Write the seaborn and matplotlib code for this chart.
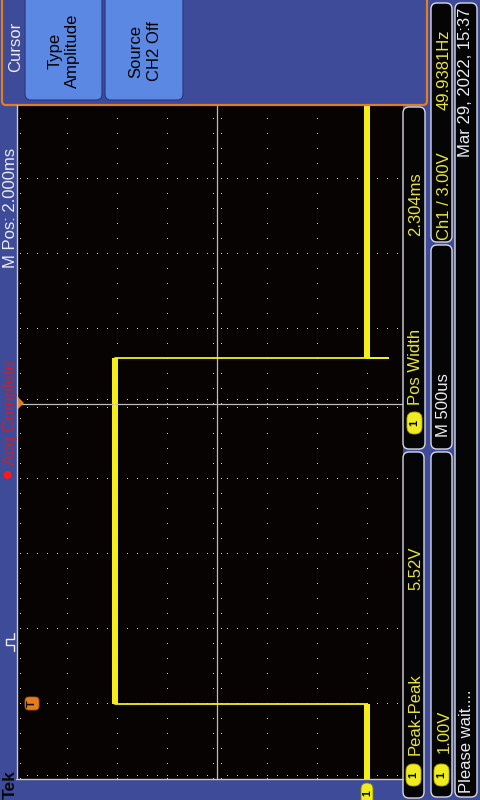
import numpy as np
import pandas as pd
import matplotlib
matplotlib.use("Agg")
import matplotlib.pyplot as plt
import seaborn as sns
from matplotlib.patches import FancyBboxPatch, Rectangle, Polygon, Circle

sns.set_theme(style="dark")
plt.rcParams['font.family'] = ['Liberation Sans', 'DejaVu Sans']

# ---------------- waveform (Ch1 1.00V/div, 500us/div) ----------------
trace_t_ms = [-0.5, 0.0, 0.0, 2.304, 2.304, 2.304, 4.5]
trace_volts = [0.0, 0.0, 5.04, 5.04, -0.42, 0.0, 0.0]

# flat parts of the pulse carry a noise band
level_t_start = [-0.5, 0.0, 2.304]
level_t_end = [0.0, 2.304, 4.5]
level_volts = [0.0, 5.04, 0.0]
noise_half_band = 0.065

# ---------------- readouts ----------------
measure_names = ["Pos Width", "Peak-Peak"]
measure_values = ["2.304ms", "5.52V"]
ch1_scale = "1.00V"
timebase = "M 500us"
trigger_text = "Ch1 / 3.00V"
freq_text = "49.9381Hz"
date_text = "Mar 29, 2022, 15:37"
status_text = "Please wait...."
mpos_text = "M Pos: 2.000ms"
acq_text = "Acq Complete"
menu_title = "Cursor"
menu_buttons = [("Type", "Amplitude"), ("Source", "CH2 Off")]

# graticule limits (8 x 1V, 10 x 0.5ms), center at 3V / 2.0ms
v_min, v_max = -1.0, 7.0
t_min, t_max = -0.5, 4.5
v_center, t_center = 3.0, 2.0

# colours
BLUE = '#3e4b98'
BTN = '#5b88e3'
ORANGE = '#e47d1e'
YELLOW = '#f4ef1a'
TXT_YEL = '#e8e43a'
WHITE = '#ececf4'
GRID = '#d4d4d4'
CENTER = '#bcbcbc'
RED_TXT = '#c8202c'

fig = plt.figure(figsize=(4.8, 8), dpi=100, facecolor=BLUE)

# ---------------- graticule ----------------
ax = fig.add_axes([17 / 480, 21 / 800, 400 / 480, 750 / 800], zorder=1)
ax.set_facecolor('#070303')
ax.set_xlim(v_max, v_min)
ax.set_ylim(t_min, t_max)
ax.set_xticks([])
ax.set_yticks([])
ax.grid(False)
for s in ax.spines.values():
    s.set_visible(False)

dot_t = np.arange(t_min, t_max + 1e-9, 0.1)
dot_v = np.arange(v_min, v_max + 1e-9, 0.2)
for v in np.arange(v_min, v_max + 1e-9, 1.0):
    if abs(v - v_center) < 1e-6:
        continue
    vx = v - 0.06 if v == v_max else v
    ax.plot(np.full_like(dot_t, vx), dot_t, ls='none', marker=',', color=GRID)
for t in np.arange(t_min, t_max + 1e-9, 0.5):
    if abs(t - t_center) < 1e-6:
        continue
    ty = t + 0.02 if t == t_min else t
    ax.plot(dot_v, np.full_like(dot_v, ty), ls='none', marker=',', color=GRID)

# center crosshair with small ticks
ax.axvline(v_center, color=CENTER, lw=0.9)
ax.axhline(t_center, color=CENTER, lw=0.9)
for dv in (-0.08, 0.08):
    ax.plot(np.full_like(dot_t, v_center + dv), dot_t, ls='none', marker=',', color=GRID)
for dt in (-0.027, 0.027):
    ax.plot(dot_v, np.full_like(dot_v, t_center + dt), ls='none', marker=',', color=GRID)

# noise band on the flat levels
for t0, t1, lv in zip(level_t_start, level_t_end, level_volts):
    ax.fill_betweenx([t0, t1], lv - noise_half_band, lv + noise_half_band,
                     color=YELLOW, lw=0)

trace = pd.DataFrame({'volts': trace_volts, 't_ms': trace_t_ms})
sns.lineplot(data=trace, x='volts', y='t_ms', sort=False, estimator=None,
             color=YELLOW, linewidth=1.3, ax=ax)
ax.set_xlabel('')
ax.set_ylabel('')

# ---------------- screen furniture (pixel coordinates) ----------------
ui = fig.add_axes([0, 0, 1, 1], zorder=5)
ui.set_xlim(0, 480)
ui.set_ylim(800, 0)
ui.axis('off')


def vtext(x, y, s, ha='left', color=WHITE, size=12, weight='normal'):
    ui.text(x, y, s, rotation=90, rotation_mode='anchor', ha=ha, va='baseline',
            color=color, fontsize=size, fontweight=weight)


def rbox(x0, y0, x1, y1, fc='#050505', ec='#d8d8e4', r=6, lw=1.0):
    ui.add_patch(FancyBboxPatch((x0, y0), x1 - x0, y1 - y0,
                                boxstyle=f'round,pad=0,rounding_size={r}',
                                fc=fc, ec=ec, lw=lw))


def badge(xc, yc, w=15, h=22):
    ui.add_patch(FancyBboxPatch((xc - w / 2, yc - h / 2), w, h,
                                boxstyle='round,pad=0,rounding_size=7',
                                fc='#f0ec22', ec='#b8b000', lw=0.6))
    ui.text(xc, yc, '1', rotation=90, ha='center', va='center',
            color='black', fontsize=8, fontweight='bold')


# graticule borders
ui.plot([16.5, 16.5], [105, 779], color='#c8c8d0', lw=1)
ui.plot([16, 403], [779, 779], color='#c8c8d0', lw=1)

# right-hand readout column background
ui.add_patch(Rectangle((403, 105), 77, 695, fc=BLUE, ec='none'))

# cursor menu
ui.add_patch(FancyBboxPatch((2, -10), 425, 115, boxstyle='round,pad=0,rounding_size=4',
                            fc=BLUE, ec=ORANGE, lw=1.6))
btn_x = [(25, 102), (105, 183)]
btn_base = [(60, 77), (140, 159)]
for (x0, x1), (b1, b2), (l1, l2) in zip(btn_x, btn_base, menu_buttons):
    ui.add_patch(FancyBboxPatch((x0, -10), x1 - x0, 110, boxstyle='round,pad=0,rounding_size=6',
                                fc=BTN, ec='#2a347c', lw=0.8))
    vtext(b1, 51, l1, ha='center', color='black')
    vtext(b2, 51, l2, ha='center', color='black')
vtext(20, 72, menu_title)

# left status strip
vtext(15, 799, 'Tek', color='#080808', size=12.5, weight='bold')
vtext(15, 268, mpos_text)
vtext(15, 465, acq_text, color=RED_TXT)
ui.add_patch(Circle((7.5, 475), 4, fc='#ff1818', ec='none'))
ui.plot([14, 14, 6, 6, 14, 14], [651, 645, 645, 639, 639, 633], color=WHITE, lw=1)

# markers on the graticule
ui.add_patch(Polygon([(17, 396), (17, 410), (24, 403)], fc=ORANGE, ec='none'))
ui.add_patch(FancyBboxPatch((25, 697), 14, 13, boxstyle='round,pad=0,rounding_size=4',
                            fc=ORANGE, ec='#b05a10', lw=0.6))
ui.text(32, 703.5, 'T', rotation=90, ha='center', va='center', color='#1a0a00',
        fontsize=8, fontweight='bold')
ui.add_patch(FancyBboxPatch((361, 783), 12, 22, boxstyle='round,pad=0,rounding_size=6',
                            fc='#f0ec22', ec='#908800', lw=0.6))
ui.text(367, 793, '1', rotation=90, ha='center', va='center', color='black',
        fontsize=7.5, fontweight='bold')

# measurement boxes
rbox(403, 107, 425, 449)
rbox(403, 452, 424, 798)
badge(414.5, 423)
badge(413.5, 775)
vtext(420, 405, measure_names[0], color=TXT_YEL)
vtext(420, 172, measure_values[0], ha='right', color=TXT_YEL)
vtext(420, 755, measure_names[1], color=TXT_YEL)
vtext(420, 547, measure_values[1], ha='right', color=TXT_YEL)

# trigger / timebase / channel boxes
rbox(431, 3, 452, 242)
rbox(431, 245, 452, 449)
rbox(431, 452, 452, 797)
vtext(449, 30, freq_text, ha='right', color=TXT_YEL)
vtext(449, 240, trigger_text, color=TXT_YEL)
vtext(448, 437, timebase)
badge(441.5, 775)
vtext(449, 753, ch1_scale, color=TXT_YEL)

# date / status box
rbox(455, 3, 477, 797)
vtext(470, 8, date_text, ha='right')
vtext(471, 793, status_text)

fig.savefig('out.png', dpi=100, facecolor=BLUE)
